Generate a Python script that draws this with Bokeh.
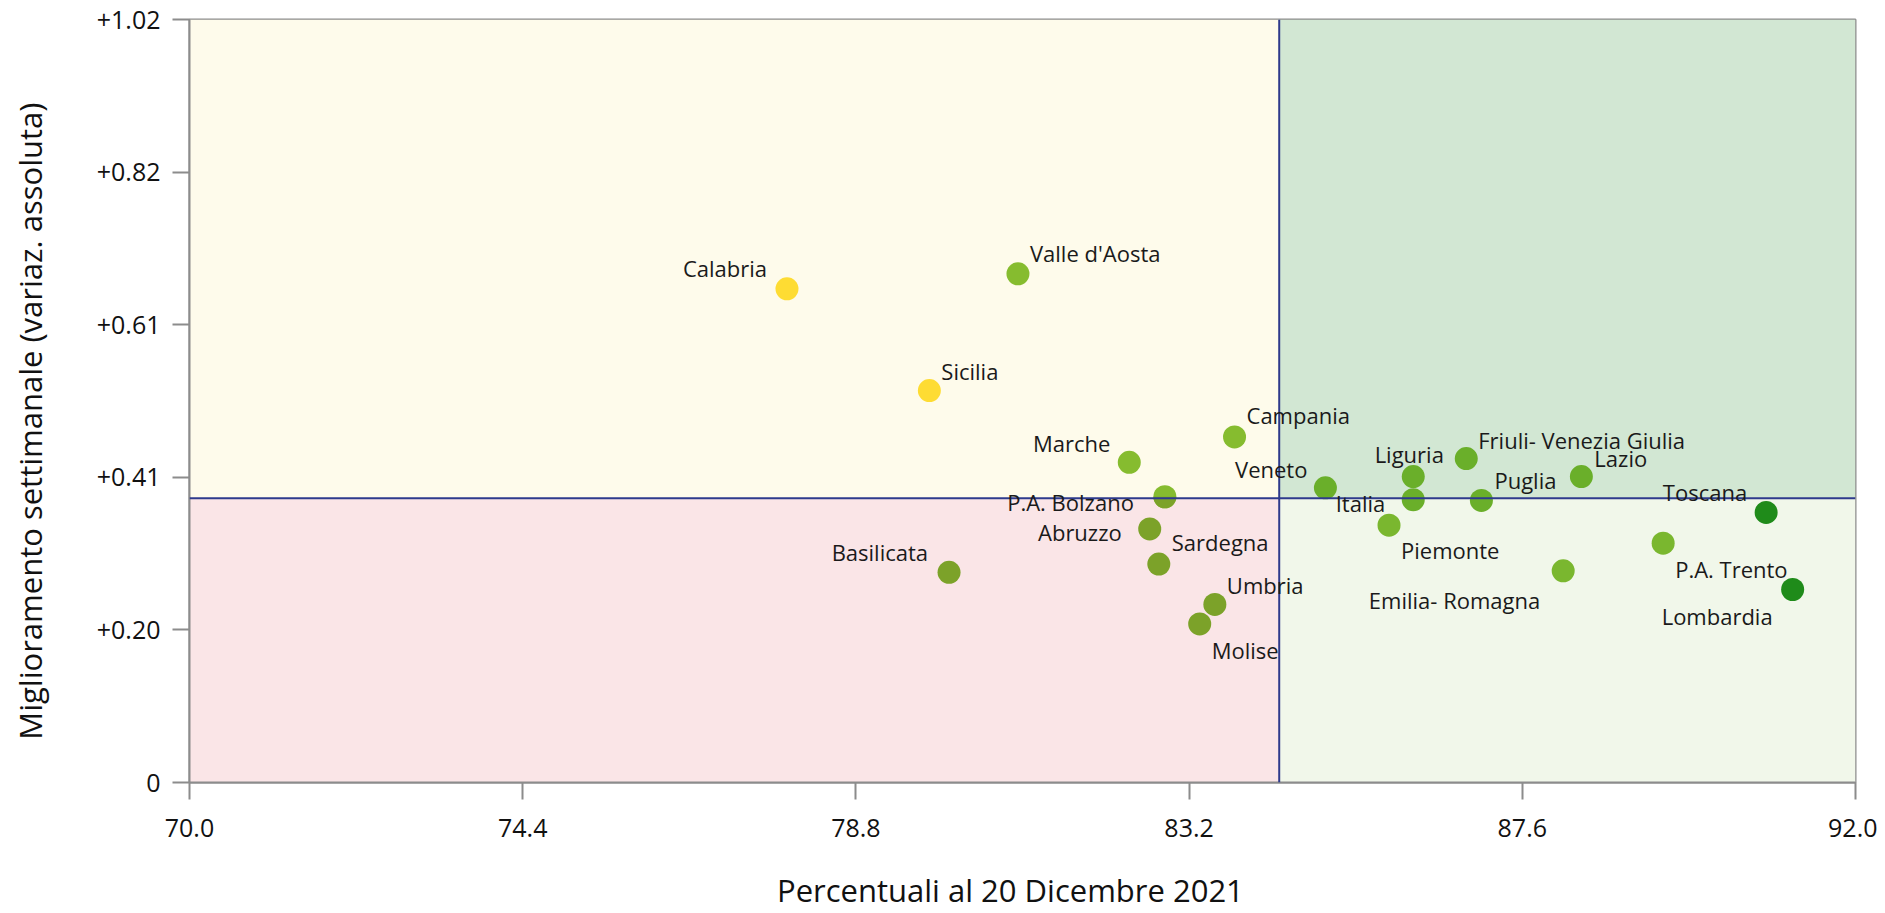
import math
from bokeh.plotting import figure
from bokeh.models import Span, Label, FixedTicker, Range1d
from bokeh.embed import file_html
from bokeh.resources import INLINE

# ---------------- data ----------------
regions = ["Calabria", "Valle d'Aosta", "Sicilia", "Marche", "Campania",
           "P.A. Bolzano", "Abruzzo", "Sardegna", "Basilicata", "Umbria",
           "Molise", "Veneto", "Liguria", "Italia", "Friuli- Venezia Giulia",
           "Puglia", "Lazio", "Piemonte", "Emilia- Romagna", "P.A. Trento",
           "Toscana", "Lombardia"]
pct_20dic = [77.89, 80.94, 79.77, 82.41, 83.80,
             82.88, 82.68, 82.80, 80.03, 83.54,
             83.34, 85.00, 86.16, 86.16, 86.86,
             87.06, 88.38, 85.84, 88.14, 89.46,
             90.82, 91.17]
weekly_gain = [0.660, 0.680, 0.524, 0.428, 0.462,
               0.382, 0.339, 0.292, 0.281, 0.238,
               0.212, 0.394, 0.409, 0.378, 0.433,
               0.377, 0.409, 0.344, 0.283, 0.320,
               0.361, 0.258]

x_min, x_max = 70.0, 92.0
y_min, y_max = 0.0, 1.02
x_ref = 84.39      # vertical reference line
y_ref = 0.380      # horizontal reference line

x_ticks = [70.0, 74.4, 78.8, 83.2, 87.6, 92.0]
x_tick_labels = ["70.0", "74.4", "78.8", "83.2", "87.6", "92.0"]
y_ticks = [0.0, 0.204, 0.408, 0.612, 0.816, 1.02]
y_tick_labels = ["0", "+0.20", "+0.41", "+0.61", "+0.82", "+1.02"]

x_title = "Percentuali al 20 Dicembre 2021"
y_title = "Miglioramento settimanale (variaz. assoluta)"

# ---------------- styles ----------------
YEL = "#FEDC33"
LG = "#86BC2F"
OL = "#7CA229"
MG = "#6AAF2A"
BG = "#7AB72F"
DG = "#1F8B1A"
dot_colors = [YEL, LG, YEL, LG, LG,
              LG, OL, OL, OL, OL,
              OL, MG, MG, MG, MG,
              MG, MG, BG, BG, BG,
              DG, DG]
# lower-half colour for the dot cut by the horizontal reference line
split_region = "P.A. Bolzano"
split_color = OL

# label placement (align, dx px, dy px up)
label_layout = [("right", -20, 21), ("left", 12, 21), ("left", 12, 20), ("right", -19, 19), ("left", 12, 22),
                ("right", -31, -5), ("right", -28, -3), ("left", 13, 22), ("right", -21, 20), ("left", 12, 19),
                ("left", 12, -26), ("right", -18, 19), ("center", -4, 23), ("right", -28, -3), ("left", 12, 19),
                ("left", 13, 20), ("left", 13, 19), ("left", 12, -25), ("right", -23, -29), ("left", 12, -26),
                ("right", -19, 20), ("right", -20, -26)]

FONT = "Open Sans"
AXC = "#8C8C8C"

p = figure(width=1877, height=913, output_backend="svg", toolbar_location=None,
           x_range=Range1d(x_min, x_max), y_range=Range1d(y_min, y_max),
           min_border_left=189, min_border_right=22, min_border_top=19, min_border_bottom=131)
p.background_fill_color = "white"
p.border_fill_color = "white"
p.outline_line_color = AXC
p.outline_line_width = 2
p.xgrid.visible = False
p.ygrid.visible = False

# quadrant backgrounds
p.quad(left=[x_min, x_ref, x_min, x_ref], right=[x_ref, x_max, x_ref, x_max],
       bottom=[y_ref, y_ref, y_min, y_min], top=[y_max, y_max, y_ref, y_ref],
       fill_color=["#FEFBEB", "#D2E7D3", "#FAE5E7", "#F1F7EA"], line_color=None)

p.add_layout(Span(location=x_ref, dimension="height", line_color="#2E3A8C", line_width=2))
p.add_layout(Span(location=y_ref, dimension="width", line_color="#2E3A8C", line_width=2))

p.scatter(pct_20dic, weekly_gain, size=23, fill_color=dot_colors, line_color=None)
si = regions.index(split_region)
p.wedge(x=[pct_20dic[si]], y=[weekly_gain[si]], radius=11.5, radius_units="screen",
        start_angle=math.pi, end_angle=2 * math.pi, fill_color=split_color, line_color=None)

for name, xv, yv, (al, dx, dy) in zip(regions, pct_20dic, weekly_gain, label_layout):
    p.add_layout(Label(x=xv, y=yv, x_offset=dx, y_offset=dy, text=name, text_align=al,
                       text_baseline="middle", text_font=FONT, text_font_size="22px",
                       text_color="#1A1A1A"))

for ax in (p.xaxis[0], p.yaxis[0]):
    ax.axis_line_color = AXC
    ax.axis_line_width = 2
    ax.major_tick_line_color = AXC
    ax.major_tick_line_width = 2
    ax.major_tick_out = 17
    ax.major_tick_in = 0
    ax.minor_tick_line_color = None
    ax.major_label_text_font = FONT
    ax.major_label_text_font_size = "25px"
    ax.major_label_text_color = "#111111"
    ax.axis_label_text_font = FONT
    ax.axis_label_text_font_size = "31px"
    ax.axis_label_text_font_style = "normal"
    ax.axis_label_text_color = "#111111"

p.xaxis.ticker = FixedTicker(ticks=x_ticks)
p.xaxis.major_label_overrides = dict(zip(x_ticks, x_tick_labels))
p.yaxis.ticker = FixedTicker(ticks=y_ticks)
p.yaxis.major_label_overrides = dict(zip(y_ticks, y_tick_labels))
# trailing spaces shift the centred titles slightly off-centre, as in the reference
p.xaxis.axis_label = x_title + "   "
p.yaxis.axis_label = y_title + "     "
p.xaxis.major_label_standoff = 19
p.yaxis.major_label_standoff = 12
p.xaxis.axis_label_standoff = 29
p.yaxis.axis_label_standoff = 43

open("out.html", "w").write(file_html(p, INLINE))
